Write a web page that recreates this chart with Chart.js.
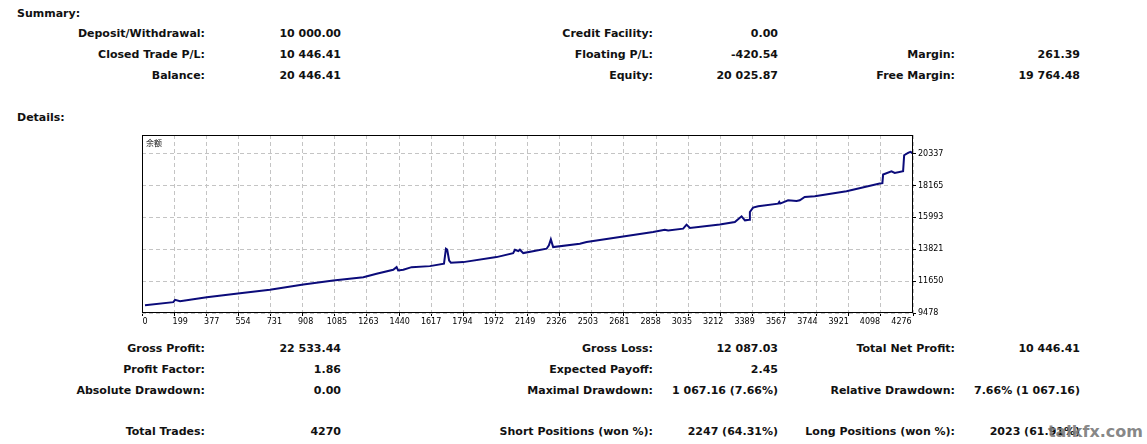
<!DOCTYPE html>
<html>
<head>
<meta charset="utf-8">
<script src="https://cdn.jsdelivr.net/npm/chart.js@4/dist/chart.umd.min.js"></script>
<style>
  html, body { margin:0; padding:0; background:#fff; }
  #wrap { position:relative; width:1147px; height:444px; overflow:hidden; background:#fff; }
  .t { position:absolute; font-family:"DejaVu Sans", Verdana, sans-serif; font-weight:bold; font-size:11px; line-height:14px; white-space:nowrap; color:#111; }
  .l { text-align:left; }
  .r { text-align:right; }
  #cv { position:absolute; left:100px; top:125px; }
  #cap { position:absolute; left:146px; top:137px; font-family:"Noto Sans CJK SC", sans-serif; font-size:8px; line-height:11px; color:#111; }
  #wm { position:absolute; right:4px; top:422px; font-family:"DejaVu Sans", sans-serif; font-weight:bold; font-size:16px; line-height:20px; color:rgba(120,120,120,0.9); }
</style>
</head>
<body>
<div id="wrap">
  <div class="t l" style="left:17px; top:7px;">Summary:</div>

  <div class="t r" style="right:942px; top:27px;">Deposit/Withdrawal:</div>
  <div class="t r" style="right:806px; top:27px;">10 000.00</div>
  <div class="t r" style="right:942px; top:48px;">Closed Trade P/L:</div>
  <div class="t r" style="right:806px; top:48px;">10 446.41</div>
  <div class="t r" style="right:942px; top:69px;">Balance:</div>
  <div class="t r" style="right:806px; top:69px;">20 446.41</div>

  <div class="t r" style="right:494px; top:27px;">Credit Facility:</div>
  <div class="t r" style="right:369px; top:27px;">0.00</div>
  <div class="t r" style="right:494px; top:48px;">Floating P/L:</div>
  <div class="t r" style="right:369px; top:48px;">-420.54</div>
  <div class="t r" style="right:494px; top:69px;">Equity:</div>
  <div class="t r" style="right:369px; top:69px;">20 025.87</div>

  <div class="t r" style="right:192px; top:48px;">Margin:</div>
  <div class="t r" style="right:67px; top:48px;">261.39</div>
  <div class="t r" style="right:192px; top:69px;">Free Margin:</div>
  <div class="t r" style="right:67px; top:69px;">19 764.48</div>

  <div class="t l" style="left:17px; top:111px;">Details:</div>

  <canvas id="cv" width="880" height="210"></canvas>
  <div id="cap">余额</div>

  <div class="t r" style="right:942px; top:342px;">Gross Profit:</div>
  <div class="t r" style="right:806px; top:342px;">22 533.44</div>
  <div class="t r" style="right:942px; top:363px;">Profit Factor:</div>
  <div class="t r" style="right:806px; top:363px;">1.86</div>
  <div class="t r" style="right:942px; top:384px;">Absolute Drawdown:</div>
  <div class="t r" style="right:806px; top:384px;">0.00</div>
  <div class="t r" style="right:942px; top:425px;">Total Trades:</div>
  <div class="t r" style="right:806px; top:425px;">4270</div>

  <div class="t r" style="right:494px; top:342px;">Gross Loss:</div>
  <div class="t r" style="right:369px; top:342px;">12 087.03</div>
  <div class="t r" style="right:494px; top:363px;">Expected Payoff:</div>
  <div class="t r" style="right:369px; top:363px;">2.45</div>
  <div class="t r" style="right:494px; top:384px;">Maximal Drawdown:</div>
  <div class="t r" style="right:369px; top:384px;">1 067.16 (7.66%)</div>
  <div class="t r" style="right:494px; top:425px;">Short Positions (won %):</div>
  <div class="t r" style="right:369px; top:425px;">2247 (64.31%)</div>

  <div class="t r" style="right:192px; top:342px;">Total Net Profit:</div>
  <div class="t r" style="right:67px; top:342px;">10 446.41</div>
  <div class="t r" style="right:192px; top:384px;">Relative Drawdown:</div>
  <div class="t r" style="right:67px; top:384px;">7.66% (1 067.16)</div>
  <div class="t r" style="right:192px; top:425px;">Long Positions (won %):</div>
  <div class="t r" style="right:67px; top:425px;">2023 (61.91%)</div>

  <div id="wm">talkfx.com</div>
</div>
<script>
// ---- data ----
const trades  = [0,160,170,198,349,537,706,895,1064,1234,1309,1403,1422,1431,1460,1507,1610,1690,1701,1708,1719,1729,1799,1987,2081,2091,2110,2119,2138,2270,2283,2294,2307,2458,2496,2684,2872,2938,2957,3042,3061,3080,3249,3334,3372,3391,3415,3419,3437,3466,3579,3585,3590,3635,3683,3701,3729,3786,3965,4153,4168,4172,4219,4238,4285,4291,4313,4327,4341];
const balance = [10000,10215,10378,10283,10556,10829,11060,11422,11695,11920,12152,12425,12600,12377,12420,12602,12670,12834,13857,13800,13050,12902,12943,13284,13557,13789,13700,13789,13557,13857,14082,14491,13966,14198,14307,14648,14990,15153,15100,15221,15494,15266,15500,15672,16060,15787,15835,16354,16654,16743,16927,17040,16930,17155,17100,17155,17377,17425,17766,18291,18320,18905,19130,19014,19130,20221,20378,20446,20337];
const xTickLabels = ['0','199','377','554','731','908','1085','1263','1440','1617','1794','1972','2149','2326','2503','2681','2858','3035','3212','3389','3567','3744','3921','4098','4276'];
const yTickLabels = ['9478','11650','13821','15993','18165','20337'];
const seriesName = '余额';

const xTickValues = xTickLabels.map(Number);
const yTickValues = yTickLabels.map(Number);
const points = trades.map((t, i) => ({ x: t, y: balance[i] }));

const gridColor = '#c4c4c4';
const tickFont = { family: 'DejaVu Sans', size: 8 };

const boxPlugin = {
  id: 'box',
  afterDraw(chart) {
    const a = chart.chartArea, ctx = chart.ctx;
    ctx.save();
    ctx.strokeStyle = '#000';
    ctx.lineWidth = 1;
    ctx.strokeRect(Math.round(a.left) + 0.5, Math.round(a.top) + 0.5, Math.round(a.right - a.left) - 1, Math.round(a.bottom - a.top) - 1);
    ctx.restore();
  }
};

new Chart(document.getElementById('cv'), {
  type: 'line',
  data: {
    datasets: [{
      label: seriesName,
      data: points,
      xAxisID: 'x',
      yAxisID: 'y',
      borderColor: '#0b0b7a',
      borderWidth: 2,
      pointRadius: 0,
      tension: 0,
      fill: false
    }]
  },
  options: {
    responsive: false,
    animation: false,
    devicePixelRatio: 1,
    layout: { padding: { left: 42, top: 10, right: 0, bottom: 0 } },
    plugins: { legend: { display: false }, tooltip: { enabled: false }, title: { display: false } },
    scales: {
      xg: {
        type: 'linear', position: 'bottom', weight: 0,
        min: 0, max: 24,
        ticks: { display: false, stepSize: 1 },
        grid: { display: true, color: gridColor, borderDash: [4, 3], drawTicks: true, tickLength: 3, tickColor: '#000', tickBorderDash: [] },
        border: { display: false, dash: [4, 3] },
        afterFit(s) { s.height = 0; }
      },
      x: {
        type: 'linear', position: 'bottom', weight: 1,
        min: -17, max: 4341,
        afterBuildTicks(s) { s.ticks = xTickValues.map(v => ({ value: v })); },
        ticks: {
          autoSkip: false, maxRotation: 0, minRotation: 0, padding: 4,
          color: '#000', font: tickFont,
          callback: (v, i) => xTickLabels[i]
        },
        grid: { display: false, drawTicks: false },
        border: { display: false },
        afterFit(s) { s.height = 22; }
      },
      y: {
        type: 'linear', position: 'right',
        min: 9478, max: 21600,
        afterBuildTicks(s) { s.ticks = yTickValues.map(v => ({ value: v })); },
        ticks: { color: '#000', font: tickFont, padding: 2, callback: (v, i) => yTickLabels[i] },
        grid: { display: true, color: gridColor, borderDash: [4, 3], drawTicks: true, tickLength: 3, tickColor: '#000', tickBorderDash: [] },
        border: { display: false, dash: [4, 3] },
        afterFit(s) { s.width = 67; }
      }
    }
  },
  plugins: [boxPlugin]
});
</script>
</body>
</html>
